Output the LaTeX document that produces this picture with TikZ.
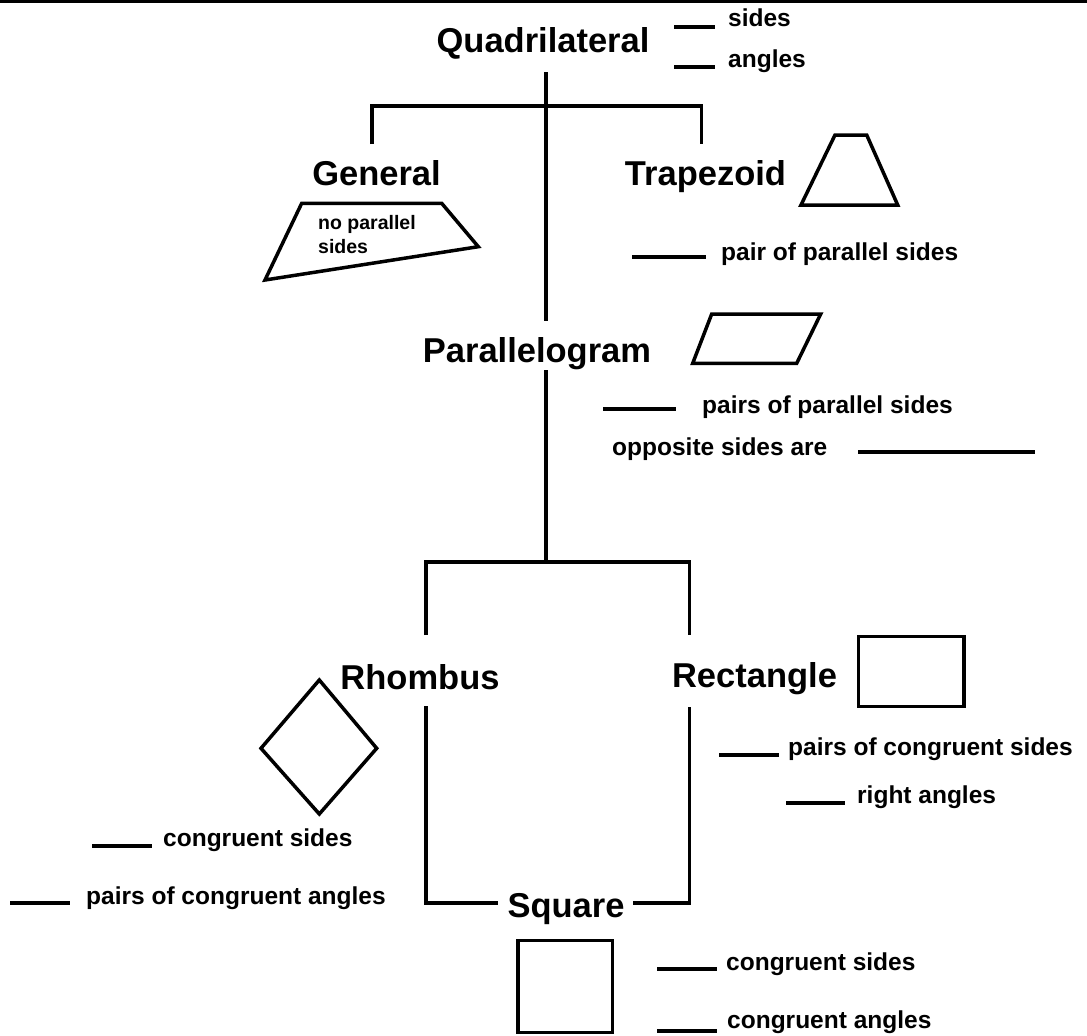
\documentclass[tikz,border=0pt]{standalone}
\usepackage{fontspec}
\setmainfont{Liberation Sans}
\begin{document}
\begin{tikzpicture}[x=1pt,y=-1pt,
  title/.style={font=\fontsize{34.5}{40}\selectfont\bfseries, inner sep=0pt, anchor=base},
  lab/.style={font=\fontsize{24.5}{28}\selectfont\bfseries, inner sep=0pt, anchor=base west},
  tiny/.style={font=\fontsize{19.5}{23}\selectfont\bfseries, inner sep=0pt, anchor=base west},
  blank/.style={line width=3.6pt},
  conn/.style={line width=3.5pt, line join=miter},
  shp/.style={line width=3.5pt, line join=miter}]
\useasboundingbox (0,0) rectangle (1087,1036);
\fill[white] (0,0) rectangle (1087,1036);
\draw[line width=2.8pt] (0,1.3) -- (1087,1.3);

% titles
\node[title] (quad) at (543,52) {Quadrilateral};
\node[title] (gen) at (376.5,185) {General};
\node[title] (trap) at (705.5,185) {Trapezoid};
\node[title] (para) at (537,362) {Parallelogram};
\node[title] (rhom) at (420,689) {Rhombus};
\node[title] (rect) at (754.5,687) {Rectangle};
\node[title] (sq) at (566,917) {Square};

% junction coordinates
\coordinate (q0) at (546,72);
\coordinate (b1l) at (372,106);
\coordinate (b1r) at (701.7,106);
\coordinate (gtop) at (372,144);
\coordinate (ttop) at (701.7,144);
\coordinate (ptop) at (546,321);
\coordinate (pbot) at (546,370);
\coordinate (b2) at (546,562);
\coordinate (b2l) at (426,562);
\coordinate (b2r) at (689.5,562);
\coordinate (rhtop) at (426,635);
\coordinate (retop) at (689.5,635);
\coordinate (rhbot) at (426,706);
\coordinate (rebot) at (689.5,707);
\coordinate (cl) at (426,903);
\coordinate (cr) at (689.5,903);
\coordinate (sql) at (498,903);
\coordinate (sqr) at (633,903);

% connectors
\draw[conn] (q0) -- (ptop);
\draw[conn] (gtop) -- (b1l) -- (b1r) -- (ttop);
\draw[conn] (pbot) -- (b2);
\draw[conn] (rhtop) -- (b2l) -- (b2r) -- (retop);
\draw[conn] (rhbot) -- (cl) -- (sql);
\draw[conn] (rebot) -- (cr) -- (sqr);

% shapes
\draw[shp] (301.7,203.3) -- (441.7,203.3) -- (478.3,246.7) -- (265,280) -- cycle;
\node[tiny] (np1) at (318,229) {no parallel};
\node[tiny] (np2) at (318,253) {sides};
\draw[shp] (835,135) -- (866.7,135) -- (897.7,205) -- (801,205) -- cycle;
\draw[shp] (711.7,314) -- (820.7,314) -- (796.7,363.3) -- (692.7,363.3) -- cycle;
\draw[shp] (858.3,636.7) rectangle (964,706.7);
\draw[shp] (319.3,680) -- (376.7,748.3) -- (319.3,814) -- (261,748.3) -- cycle;
\draw[shp] (518,940.7) rectangle (612.7,1032.7);

% labels and blanks
\node[lab] (l1) at (728,27) {sides};
\node[lab] (l2) at (728,67) {angles};
\draw[blank] (674,27) -- (715,27);
\draw[blank] (674,67) -- (715,67);

\node[lab] (l3) at (721,260) {pair of parallel sides};
\draw[blank] (632,257) -- (706,257);

\node[lab] (l4) at (702,413) {pairs of parallel sides};
\draw[blank] (603,409) -- (676,409);
\node[lab] (l5) at (612,455) {opposite sides are};
\draw[blank] (858,452) -- (1035,452);

\node[lab] (l6) at (788,755) {pairs of congruent sides};
\draw[blank] (719,755) -- (779,755);
\node[lab] (l7) at (857,803) {right angles};
\draw[blank] (786,803) -- (845,803);

\node[lab] (l8) at (163,846) {congruent sides};
\draw[blank] (92,846) -- (152,846);
\node[lab] (l9) at (86,904) {pairs of congruent angles};
\draw[blank] (10,903) -- (70,903);

\node[lab] (l10) at (726,970) {congruent sides};
\draw[blank] (657,969) -- (717,969);
\node[lab] (l11) at (727,1028) {congruent angles};
\draw[blank] (657,1031) -- (717,1031);
\end{tikzpicture}
\end{document}
